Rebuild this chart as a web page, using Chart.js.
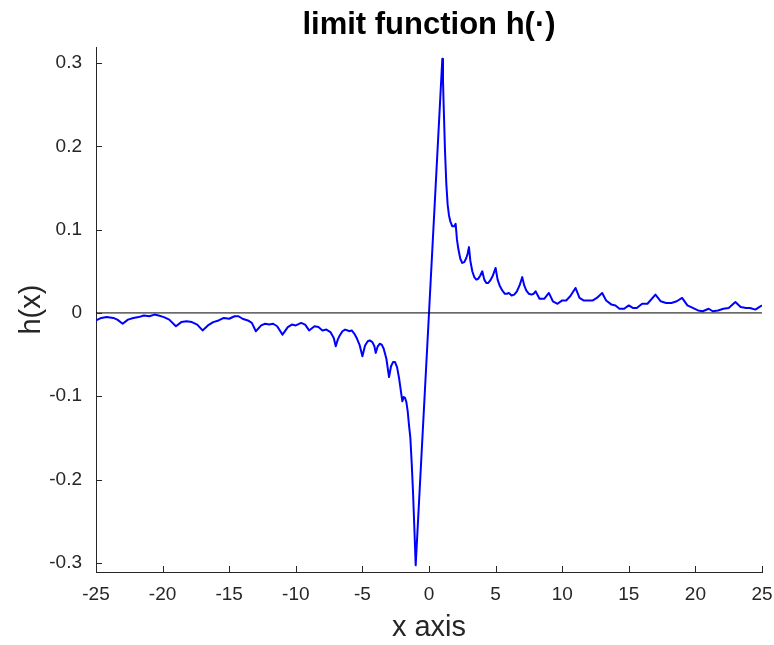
<!DOCTYPE html>
<html>
<head>
<meta charset="utf-8">
<script src="https://cdn.jsdelivr.net/npm/chart.js@4.4.1/dist/chart.umd.min.js"></script>
<style>
  html, body { margin: 0; padding: 0; background: #fff; }
  #wrap { width: 774px; height: 645px; position: relative; }
</style>
</head>
<body>
<div id="wrap"><canvas id="plot"></canvas></div>
<script>
// ─── DATA ────────────────────────────────────────────────────────────────────
const xValues = [
  -25, -24.6, -24.2, -23.7, -23.4, -23, -22.6, -22.2, -21.8, -21.4, -21, -20.6, -20.3, -19.9, -19.5,
  -19, -18.6, -18.2, -17.8, -17.4, -17, -16.6, -16.2, -15.8, -15.4, -15, -14.6, -14.3, -14, -13.6,
  -13.3, -13, -12.6, -12.3, -12, -11.7, -11.4, -11, -10.6, -10.3, -10, -9.6, -9.3, -9, -8.6,
  -8.3, -8, -7.7, -7.4, -7.15, -7, -6.85, -6.7, -6.5, -6.3, -6.1, -6, -5.8, -5.6, -5.4,
  -5.2, -5, -4.8, -4.6, -4.45, -4.25, -4.1, -4, -3.85, -3.7, -3.55, -3.4, -3.2, -3, -2.85,
  -2.7, -2.55, -2.4, -2.25, -2.1, -2, -1.9, -1.8, -1.7, -1.6, -1.5, -1.4, -1.3, -1.2, -1.1,
  -1, 0, 1, 1.05, 1.1, 1.2, 1.3, 1.4, 1.5, 1.6, 1.75, 1.9, 2, 2.1, 2.2,
  2.35, 2.5, 2.65, 2.8, 2.9, 3, 3.1, 3.25, 3.4, 3.55, 3.7, 3.85, 4, 4.15, 4.3,
  4.45, 4.6, 4.8, 5, 5.15, 5.3, 5.5, 5.7, 5.85, 6, 6.2, 6.4, 6.6, 6.8, 7,
  7.15, 7.3, 7.5, 7.7, 7.85, 8, 8.3, 8.65, 9, 9.3, 9.65, 10, 10.3, 10.6, 11,
  11.3, 11.6, 12, 12.3, 12.6, 13, 13.3, 13.7, 14, 14.3, 14.65, 15, 15.3, 15.6, 16,
  16.4, 17, 17.4, 17.8, 18.2, 18.6, 19, 19.4, 19.8, 20.2, 20.55, 21, 21.3, 21.7, 22.1,
  22.5, 23, 23.4, 23.8, 24.1, 24.5, 25
];
const hValues = [
  -0.009, -0.006, -0.005, -0.006, -0.008, -0.013, -0.008, -0.006, -0.005, -0.003, -0.004, -0.002, -0.003, -0.005, -0.008,
  -0.016, -0.011, -0.010, -0.011, -0.014, -0.021, -0.015, -0.011, -0.009, -0.006, -0.007, -0.004, -0.004, -0.007, -0.009,
  -0.012, -0.022, -0.015, -0.013, -0.014, -0.013, -0.016, -0.026, -0.017, -0.014, -0.015, -0.012, -0.014, -0.021, -0.016,
  -0.017, -0.021, -0.020, -0.023, -0.030, -0.040, -0.032, -0.027, -0.022, -0.020, -0.021, -0.022, -0.021, -0.025, -0.031,
  -0.039, -0.052, -0.039, -0.034, -0.033, -0.035, -0.040, -0.048, -0.040, -0.037, -0.038, -0.043, -0.055, -0.077, -0.064,
  -0.059, -0.059, -0.065, -0.078, -0.095, -0.106, -0.101, -0.102, -0.107, -0.118, -0.135, -0.150, -0.180, -0.215, -0.258,
  -0.303, 0, 0.305, 0.280, 0.250, 0.195, 0.155, 0.130, 0.117, 0.110, 0.104, 0.104, 0.107, 0.088, 0.077,
  0.065, 0.060, 0.061, 0.066, 0.071, 0.079, 0.063, 0.050, 0.043, 0.040, 0.041, 0.045, 0.050, 0.040, 0.036,
  0.036, 0.039, 0.045, 0.054, 0.040, 0.033, 0.027, 0.023, 0.023, 0.024, 0.021, 0.022, 0.026, 0.033, 0.043,
  0.033, 0.027, 0.023, 0.022, 0.023, 0.026, 0.017, 0.017, 0.024, 0.014, 0.011, 0.015, 0.015, 0.020, 0.030,
  0.018, 0.015, 0.015, 0.015, 0.018, 0.024, 0.015, 0.010, 0.009, 0.005, 0.005, 0.009, 0.006, 0.006, 0.011,
  0.011, 0.022, 0.014, 0.012, 0.012, 0.014, 0.018, 0.009, 0.006, 0.003, 0.002, 0.005, 0.002, 0.003, 0.005,
  0.006, 0.013, 0.007, 0.006, 0.006, 0.004, 0.009
];
const xTicks = [-25, -20, -15, -10, -5, 0, 5, 10, 15, 20, 25];
const yTicks = [-0.3, -0.2, -0.1, 0, 0.1, 0.2, 0.3];
const xRange = [-25, 25];
const yRange = [-0.311, 0.319];

// ─── STYLE ───────────────────────────────────────────────────────────────────
const FONT = "'Liberation Sans', Arial, Helvetica, sans-serif";
const AXIS_COLOR = '#262626';
const $ = id => document.getElementById(id);
const fmtTick = v => v === 0 ? '0' : String(Number(v).toFixed(v % 1 === 0 ? 0 : 1));

// inward tick marks, matlab style
const inwardTicks = {
  id: 'inwardTicks',
  afterDraw(chart) {
    const { ctx, chartArea: a, scales: { x, y } } = chart;
    ctx.save();
    ctx.strokeStyle = AXIS_COLOR;
    ctx.lineWidth = 1;
    ctx.beginPath();
    xTicks.forEach(v => {
      const px = Math.round(x.getPixelForValue(v)) + 0.5;
      ctx.moveTo(px, a.bottom); ctx.lineTo(px, a.bottom - 6);
    });
    yTicks.forEach(v => {
      const py = Math.round(y.getPixelForValue(v)) + 0.5;
      ctx.moveTo(a.left, py); ctx.lineTo(a.left + 6, py);
    });
    ctx.stroke();
    ctx.restore();
  }
};

// ─── CHART ───────────────────────────────────────────────────────────────────
const curve = xValues.map((x, i) => ({ x, y: hValues[i] }));
const zeroLine = xRange.map(x => ({ x, y: 0 }));

new Chart($('plot').getContext('2d'), {
  type: 'line',
  data: {
    datasets: [
      { data: zeroLine, borderColor: '#000000', borderWidth: 1, pointRadius: 0, tension: 0 },
      { data: curve, borderColor: '#0000ff', borderWidth: 2, pointRadius: 0, tension: 0, borderJoinStyle: 'round' },
    ]
  },
  options: {
    responsive: true, maintainAspectRatio: false,
    animation: false,
    layout: { padding: { left: 0, right: 0, top: 0, bottom: 0 } },
    plugins: {
      legend: { display: false },
      tooltip: { enabled: false },
      title: {
        display: true, text: 'limit function h(\u00b7)', fullSize: false,
        color: '#000', font: { family: FONT, size: 31, weight: 'bold' },
        padding: { top: 7, bottom: 3 },
      },
    },
    scales: {
      x: {
        type: 'linear', min: xRange[0], max: xRange[1],
        afterBuildTicks: s => { s.ticks = xTicks.map(value => ({ value })); },
        afterFit: s => { s.height = 73; s.paddingRight = 12; s.paddingLeft = 0; },
        grid: { display: false, drawTicks: false },
        border: { display: true, color: AXIS_COLOR, width: 1 },
        ticks: { color: AXIS_COLOR, font: { family: FONT, size: 19 }, padding: 11, maxRotation: 0, callback: fmtTick },
        title: { display: true, text: 'x axis', color: AXIS_COLOR, font: { family: FONT, size: 29 }, padding: { top: 0, bottom: 0 } },
      },
      y: {
        type: 'linear', min: yRange[0], max: yRange[1],
        afterBuildTicks: s => { s.ticks = yTicks.map(value => ({ value })); },
        afterFit: s => { s.width = 96; },
        grid: { display: false, drawTicks: false },
        border: { display: true, color: AXIS_COLOR, width: 1 },
        ticks: { color: AXIS_COLOR, font: { family: FONT, size: 19 }, padding: 14, callback: fmtTick },
        title: { display: true, text: 'h(x)', color: AXIS_COLOR, font: { family: FONT, size: 29 }, padding: { top: 15, bottom: 2 } },
      },
    },
  },
  plugins: [inwardTicks],
});
</script>
</body>
</html>
